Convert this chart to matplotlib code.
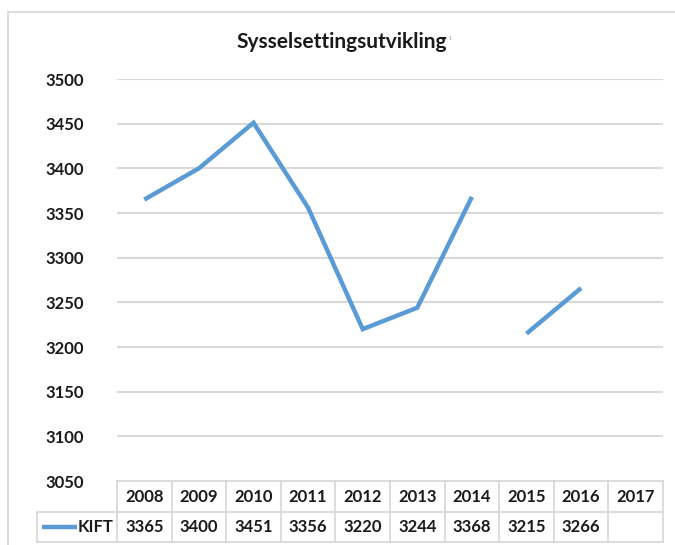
import numpy as np
import matplotlib
matplotlib.use("Agg")
from matplotlib import pyplot as plt
from matplotlib.lines import Line2D

# data
years = ['2008', '2009', '2010', '2011', '2012', '2013', '2014', '2015', '2016', '2017']
kift = [3365, 3400, 3451, 3356, 3220, 3244, 3368, 3215, 3266, None]
# the line is broken between 2014 and 2015 in the original
segments = [(0, 7), (7, 9)]
yticks = [3050, 3100, 3150, 3200, 3250, 3300, 3350, 3400, 3450, 3500]
series_name = 'KIFT'
title = 'Sysselsettingsutvikling'

blue = '#5B9BD5'
grid_c = '#d9d9d9'
txt_c = '#1a1a1a'

plt.rcParams['font.family'] = ['Lato', 'DejaVu Sans']

W, H = 675, 545
fig = plt.figure(figsize=(W / 100, H / 100), dpi=100)

x0, x1 = 117, 663
y_top, y_bot = 79, 481
ax = fig.add_axes([x0 / W, 1 - y_bot / H, (x1 - x0) / W, (y_bot - y_top) / H])

x = np.arange(len(years))
for a, b in segments:
    ax.plot(x[a:b], [float(v) for v in kift[a:b]], color=blue, lw=3.2,
            solid_capstyle='butt', solid_joinstyle='miter', zorder=3)

ax.set_xlim(-0.5, len(years) - 0.5)
ax.set_ylim(yticks[0], yticks[-1])
ax.set_yticks(yticks)
ax.set_yticklabels([str(t) for t in yticks], fontsize=12, fontweight='bold', color=txt_c)
ax.tick_params(axis='y', length=0, pad=24)
ax.tick_params(axis='x', length=0, labelbottom=False)
for s in ax.spines.values():
    s.set_visible(False)
for t in yticks[1:]:
    ax.axhline(t, color=grid_c, lw=1.5, zorder=1)

# data table below the plot
px = (y_bot - y_top)
r1 = -31 / px
r2 = -61 / px
col_w = (x1 - x0) / len(years)
left_x = -0.5 - (x0 - 37) / col_w
tr = ax.get_xaxis_transform()
kw = dict(transform=tr, color=grid_c, lw=1.3, clip_on=False)
ax.plot([-0.5, len(years) - 0.5], [0, 0], **kw)
ax.plot([left_x, len(years) - 0.5], [r1, r1], **kw)
ax.plot([left_x, len(years) - 0.5], [r2, r2], **kw)
ax.plot([left_x, left_x], [r1, r2], **kw)
for i in range(len(years) + 1):
    ax.plot([i - 0.5, i - 0.5], [0, r2], **kw)
for i, yr in enumerate(years):
    ax.text(i, r1 / 2, yr, transform=tr, ha='center', va='center',
            fontsize=12, fontweight='bold', color=txt_c)
    if kift[i] is not None:
        ax.text(i, (r1 + r2) / 2, str(kift[i]), transform=tr, ha='center',
                va='center', fontsize=12, fontweight='bold', color=txt_c)
ax.text(-0.5 - 4 / col_w, (r1 + r2) / 2, series_name, transform=tr, ha='right',
        va='center', fontsize=12, fontweight='bold', color=txt_c)
ax.plot([left_x + 5 / col_w, left_x + 40 / col_w], [(r1 + r2) / 2] * 2,
        transform=tr, color=blue, lw=3.2, clip_on=False, solid_capstyle='butt')

# title
fig.text(342 / W, 1 - 42 / H, title, ha='center', va='center',
         fontsize=15, fontweight='bold', color=txt_c)
fig.text(449 / W, 1 - 38 / H, '1', ha='left', va='center', fontsize=4, color='#999999')

# chart frame
fig.add_artist(Line2D([8 / W, 8 / W], [1 - 12 / H, 0], color=grid_c, lw=1.3))
fig.add_artist(Line2D([8 / W, 1], [1 - 12 / H, 1 - 12 / H], color=grid_c, lw=1.3))

fig.savefig('out.png', dpi=100)
